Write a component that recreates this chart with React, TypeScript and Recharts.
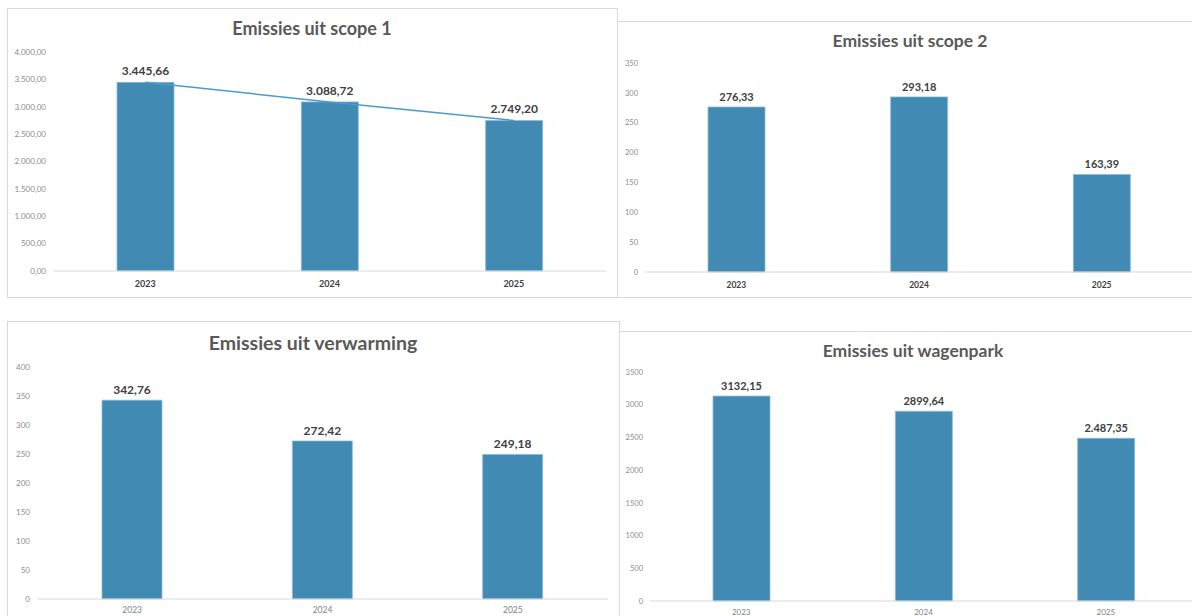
import { ComposedChart, Bar, Line, XAxis, YAxis, LabelList } from 'recharts';

const years = ['2023', '2024', '2025'];

const scope1 = [3445.66, 3088.72, 2749.2];
const scope2 = [276.33, 293.18, 163.39];
const verwarming = [342.76, 272.42, 249.18];
const wagenpark = [3132.15, 2899.64, 2487.35];
// labels as printed in the source (mixed formatting)
const wagenparkLabels = ['3132,15', '2899,64', '2.487,35'];

const scope1Ticks = [0, 500, 1000, 1500, 2000, 2500, 3000, 3500, 4000];
const scope2Ticks = [0, 50, 100, 150, 200, 250, 300, 350];
const verwarmingTicks = [0, 50, 100, 150, 200, 250, 300, 350, 400];
const wagenparkTicks = [0, 500, 1000, 1500, 2000, 2500, 3000, 3500];

const BAR = '#418ab4';
const FONT = 'Lato, "Open Sans", sans-serif';

const nl = (v: number, dec: number) => {
  const [int, frac] = v.toFixed(dec).split('.');
  const dotted = int.replace(/\B(?=(\d{3})+(?!\d))/g, '.');
  return frac ? `${dotted},${frac}` : dotted;
};

const rows = (values: number[], labels: string[]) =>
  years.map((year, i) => ({ year, value: values[i], label: labels[i] }));

type PanelProps = {
  box: { left: number; top: number; width: number; height: number };
  chart: { left: number; top: number; width: number; height: number };
  margin: { top: number; right: number; bottom: number; left: number };
  yWidth: number;
  xHeight: number;
  title: string;
  titleX: number;
  titleY: number;
  titleSize: number;
  data: { year: string; value: number; label: string }[];
  ticks: number[];
  yFormat: (v: number) => string;
  yFont: number;
  xFont: number;
  xBold: boolean;
  xMargin: number;
  labelFont: number;
  labelOffset: number;
  barSize: number;
  trend?: boolean;
};

const Panel = (p: PanelProps) => (
  <>
    <div
      style={{
        position: 'absolute',
        left: p.box.left,
        top: p.box.top,
        width: p.box.width,
        height: p.box.height,
        border: '1px solid #d9d9d9',
        boxSizing: 'border-box',
      }}
    />
    <div
      style={{
        position: 'absolute',
        left: p.titleX - 200,
        width: 400,
        top: p.titleY - p.titleSize * 0.7,
        textAlign: 'center',
        fontFamily: FONT,
        fontWeight: 700,
        fontSize: p.titleSize,
        lineHeight: `${p.titleSize * 1.4}px`,
        color: '#595959',
      }}
    >
      {p.title}
    </div>
    <div style={{ position: 'absolute', left: p.chart.left, top: p.chart.top }}>
      <ComposedChart width={p.chart.width} height={p.chart.height} data={p.data} margin={p.margin}>
        <XAxis
          dataKey="year"
          height={p.xHeight}
          axisLine={{ stroke: '#d9d9d9' }}
          tickLine={false}
          tickMargin={p.xMargin}
          tick={{
            fontSize: p.xFont,
            fill: p.xBold ? '#404040' : '#7f7f7f',
            fontFamily: FONT,
            fontWeight: p.xBold ? 700 : 400,
          }}
        />
        <YAxis
          width={p.yWidth}
          domain={[0, p.ticks[p.ticks.length - 1]]}
          ticks={p.ticks}
          interval={0}
          axisLine={false}
          tickLine={false}
          tickMargin={1}
          tickFormatter={p.yFormat}
          tick={{ fontSize: p.yFont, fill: '#8c8c8c', fontFamily: FONT }}
        />
        <Bar
          dataKey="value"
          fill={BAR}
          stroke="#8fbbd6"
          strokeWidth={0.8}
          barSize={p.barSize}
          isAnimationActive={false}
        >
          <LabelList
            dataKey="label"
            position="top"
            offset={p.labelOffset}
            style={{ fontSize: p.labelFont, fontWeight: 700, fill: '#404040', fontFamily: FONT }}
          />
        </Bar>
        {p.trend && (
          <Line
            dataKey="value"
            type="linear"
            stroke="#4a9bcb"
            strokeWidth={1.5}
            dot={false}
            activeDot={false}
            isAnimationActive={false}
          />
        )}
      </ComposedChart>
    </div>
  </>
);

export default function App() {
  return (
    <div
      style={{
        position: 'absolute',
        left: 0,
        top: 0,
        width: 1192,
        height: 616,
        overflow: 'hidden',
        background: '#fff',
      }}
    >
      <Panel
        box={{ left: 7, top: 8, width: 611, height: 290 }}
        chart={{ left: 7, top: 8, width: 611, height: 290 }}
        margin={{ top: 44, right: 12, bottom: 7, left: 6 }}
        yWidth={40}
        xHeight={20}
        title="Emissies uit scope 1"
        titleX={312}
        titleY={29}
        titleSize={18}
        data={rows(scope1, scope1.map((v) => nl(v, 2)))}
        ticks={scope1Ticks}
        yFormat={(v) => nl(v, 2)}
        yFont={8}
        xFont={9}
        xBold
        xMargin={4}
        labelFont={12}
        labelOffset={7}
        barSize={57}
        trend
      />
      <Panel
        box={{ left: 617, top: 21, width: 580, height: 277 }}
        chart={{ left: 617, top: 21, width: 576, height: 277 }}
        margin={{ top: 42, right: 0, bottom: 6, left: 0 }}
        yWidth={28}
        xHeight={20}
        title="Emissies uit scope 2"
        titleX={910}
        titleY={41}
        titleSize={17.5}
        data={rows(scope2, scope2.map((v) => nl(v, 2)))}
        ticks={scope2Ticks}
        yFormat={(v) => nl(v, 0)}
        yFont={7.5}
        xFont={8.5}
        xBold
        xMargin={4}
        labelFont={11}
        labelOffset={6}
        barSize={57}
      />
      <Panel
        box={{ left: 7, top: 321, width: 613, height: 310 }}
        chart={{ left: 7, top: 321, width: 613, height: 295 }}
        margin={{ top: 46, right: 12, bottom: 0, left: 0 }}
        yWidth={30}
        xHeight={17}
        title="Emissies uit verwarming"
        titleX={313}
        titleY={343}
        titleSize={19.5}
        data={rows(verwarming, verwarming.map((v) => nl(v, 2)))}
        ticks={verwarmingTicks}
        yFormat={(v) => nl(v, 0)}
        yFont={8}
        xFont={8.5}
        xBold={false}
        xMargin={2}
        labelFont={12}
        labelOffset={6}
        barSize={60}
      />
      <Panel
        box={{ left: 619, top: 331, width: 590, height: 300 }}
        chart={{ left: 619, top: 331, width: 578, height: 285 }}
        margin={{ top: 41, right: 0, bottom: 0, left: 0 }}
        yWidth={31}
        xHeight={15}
        title="Emissies uit wagenpark"
        titleX={913}
        titleY={351}
        titleSize={17.5}
        data={rows(wagenpark, wagenparkLabels)}
        ticks={wagenparkTicks}
        yFormat={(v) => String(v)}
        yFont={7.5}
        xFont={8}
        xBold={false}
        xMargin={2}
        labelFont={11}
        labelOffset={6}
        barSize={57}
      />
    </div>
  );
}
